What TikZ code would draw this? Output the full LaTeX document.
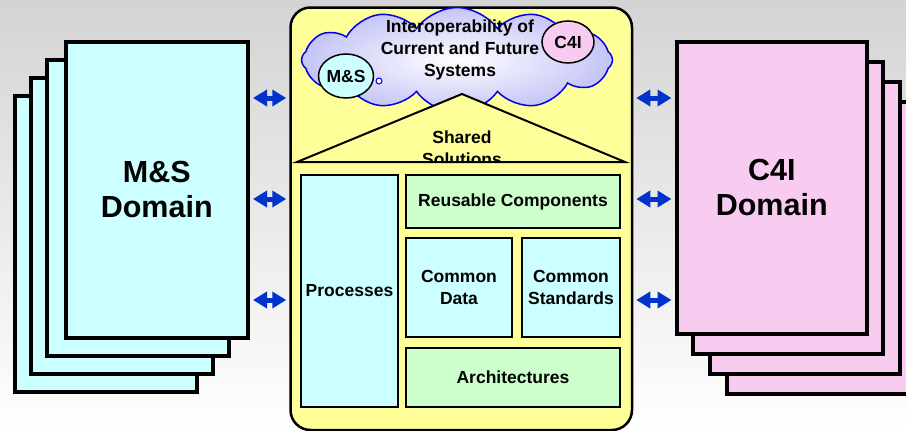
\documentclass[tikz,border=0pt]{standalone}
\usepackage{fontspec}
\setmainfont{Liberation Sans}
\usetikzlibrary{shapes.symbols,shapes.geometric,arrows.meta}
\definecolor{cyanfill}{HTML}{CCFFFF}
\definecolor{pinkfill}{HTML}{F8CCF0}
\definecolor{yellowfill}{HTML}{FFFF99}
\definecolor{greenfill}{HTML}{CCFFCC}
\definecolor{arrowblue}{HTML}{0033CC}
\definecolor{cloudblue}{HTML}{0000EE}
\definecolor{lavender}{HTML}{C4C4F6}
\tikzset{
  lpage/.style={draw=black, line width=4.5pt, fill=cyanfill, minimum width=182pt, minimum height=296pt, anchor=north west, inner sep=0pt},
  rpage/.style={draw=black, line width=4.5pt, fill=pinkfill, minimum width=190pt, minimum height=292pt, anchor=north west, inner sep=0pt},
  domtext/.style={font=\fontsize{30.5}{35}\selectfont\bfseries, align=center},
  txt/.style={font=\fontsize{17.5}{22}\selectfont\bfseries, align=center, inner sep=0pt},
  ibox/.style={draw=black, line width=2pt, anchor=north west, inner sep=0pt, font=\fontsize{17.5}{22}\selectfont\bfseries, align=center},
  biarrow/.style={draw=arrowblue, line width=5pt, shorten <=3pt, shorten >=3pt,
     {Triangle[length=14pt,width=16pt]}-{Triangle[length=14pt,width=16pt]}},
}
\begin{document}
\begin{tikzpicture}[x=1pt,y=-1pt]
\useasboundingbox (0,0) rectangle (906,431);
\shade[top color=black!17, bottom color=white] (0,0) rectangle (906,431);

% left stack
\node[lpage] (L4) at (12.5,93.5) {};
\node[lpage] (L3) at (28.5,75.5) {};
\node[lpage] (L2) at (44.5,57.5) {};
\node[lpage, domtext] (L1) at (63.5,39.5) {M\&S\\Domain};

% right stack
\node[rpage] (R4) at (724.5,99.5) {};
\node[rpage] (R3) at (707.5,79.5) {};
\node[rpage] (R2) at (690.5,59.5) {};
\node[rpage, domtext] (R1) at (674.5,39.5) {C4I\\Domain};

% centre box
\node[draw=black, line width=2.5pt, fill=yellowfill, rounded corners=20pt,
      minimum width=341.5pt, minimum height=422.5pt, anchor=north west, inner sep=0pt] (center) at (289.25,6.25) {};

% cloud
\node[cloud, draw=cloudblue, line width=1.5pt, cloud puffs=12, cloud puff arc=110, aspect=3,
      inner color=white, outer color=lavender, minimum width=311pt, minimum height=105pt] (cloud) at (457,60) {};
\node[txt] (inter) at (460,50) {Interoperability of\\Current and Future\\Systems};
\node[ellipse, draw=black, line width=1.5pt, fill=cyanfill, minimum width=52pt, minimum height=44pt, inner sep=0pt, txt] (ms) at (346,76) {M\&S};
\node[circle, draw=cloudblue, line width=1pt, fill=white, minimum size=6pt, inner sep=0pt] (dot) at (379,81) {};
\node[ellipse, draw=black, line width=1.5pt, fill=pinkfill, minimum width=52pt, minimum height=42pt, inner sep=0pt, txt] (c4i) at (568,42) {C4I};

% roof
\coordinate (apex) at (462,94);
\coordinate (bl) at (297,162);
\coordinate (br) at (625,162);
\fill[yellowfill] (bl) -- (apex) -- (br) -- cycle;
\begin{scope}
  \clip (290,90) rectangle (630,162);
  \node[txt] (shared) at (462,148) {Shared\\Solutions};
\end{scope}
\draw[line width=2pt, line join=miter] (bl) -- (apex) -- (br) -- cycle;

% inner boxes
\node[ibox, fill=cyanfill, minimum width=97pt, minimum height=232pt] (proc) at (300,174) {Processes};
\node[ibox, fill=greenfill, minimum width=214pt, minimum height=53pt] (reuse) at (405,174) {Reusable Components};
\node[ibox, fill=cyanfill, minimum width=106pt, minimum height=99pt] (data) at (405,237) {Common\\Data};
\node[ibox, fill=cyanfill, minimum width=98pt, minimum height=99pt] (std) at (521,237) {Common\\Standards};
\node[ibox, fill=greenfill, minimum width=214pt, minimum height=59pt] (arch) at (405,347) {Architectures};

% arrows
\coordinate (ya) at (0,98);
\coordinate (yb) at (0,199);
\coordinate (yc) at (0,300);
\draw[biarrow] (L1.east |- ya) -- (center.west |- ya);
\draw[biarrow] (L1.east |- yb) -- (center.west |- yb);
\draw[biarrow] (L1.east |- yc) -- (center.west |- yc);
\draw[biarrow] (center.east |- ya) -- (R1.west |- ya);
\draw[biarrow] (center.east |- yb) -- (R1.west |- yb);
\draw[biarrow] (center.east |- yc) -- (R1.west |- yc);
\end{tikzpicture}
\end{document}
